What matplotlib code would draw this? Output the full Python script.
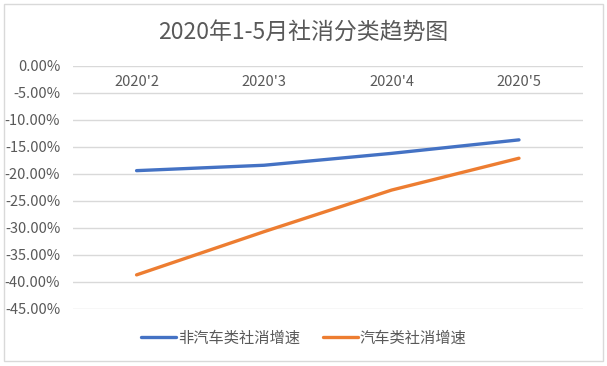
import numpy as np
import matplotlib.pyplot as plt
from matplotlib.patches import Rectangle

plt.rcParams['font.family'] = ['Noto Sans CJK SC', 'DejaVu Sans']

# Data
months = ["2020'2", "2020'3", "2020'4", "2020'5"]
non_auto = [-19.4, -18.4, -16.2, -13.7]
auto = [-38.7, -30.7, -23.0, -17.1]
y_ticks = [0, -5, -10, -15, -20, -25, -30, -35, -40, -45]

title = "2020年1-5月社消分类趋势图"
series_names = ["非汽车类社消增速", "汽车类社消增速"]


def plot_chart():
    fig = plt.figure(figsize=(6.07, 3.66), dpi=100)
    ax = fig.add_axes([0.120, 0.156, 0.840, 0.664])

    # Light border round the whole chart
    fig.patches.append(Rectangle((0.006, 0.014), 0.988, 0.975, transform=fig.transFigure,
                                 fill=False, edgecolor='#D9D9D9', linewidth=1))

    x = np.arange(len(months))
    ax.plot(x, non_auto, color='#4472C4', linewidth=2.4, solid_capstyle='round',
            label=series_names[0])
    ax.plot(x, auto, color='#ED7D31', linewidth=2.4, solid_capstyle='round',
            label=series_names[1])

    ax.set_xlim(-0.5, len(months) - 0.5)
    ax.set_ylim(-45, 0)
    ax.set_yticks(y_ticks)
    ax.set_yticklabels([f"{v:.2f}%" for v in y_ticks])
    ax.yaxis.grid(True, color='#D9D9D9', linewidth=1)
    ax.set_axisbelow(True)

    ax.set_xticks(x)
    ax.set_xticklabels(months)
    ax.tick_params(axis='x', top=False, bottom=False, labeltop=True, labelbottom=False,
                   pad=-20, labelsize=10.5, labelcolor='#595959')
    ax.tick_params(axis='y', length=0, pad=9, labelsize=10.5, labelcolor='#595959')

    for side in ['left', 'right', 'top', 'bottom']:
        ax.spines[side].set_visible(False)

    fig.text(0.5, 0.91, title, ha='center', va='center', fontsize=16.5, color='#595959')

    fig.legend(loc='center', bbox_to_anchor=(0.5, 0.077), ncol=2, frameon=False,
               fontsize=11, labelcolor='#595959', handlelength=2.3, handletextpad=0.1,
               columnspacing=1.5)

    fig.savefig("out.png", dpi=100)


if __name__ == "__main__":
    plot_chart()
